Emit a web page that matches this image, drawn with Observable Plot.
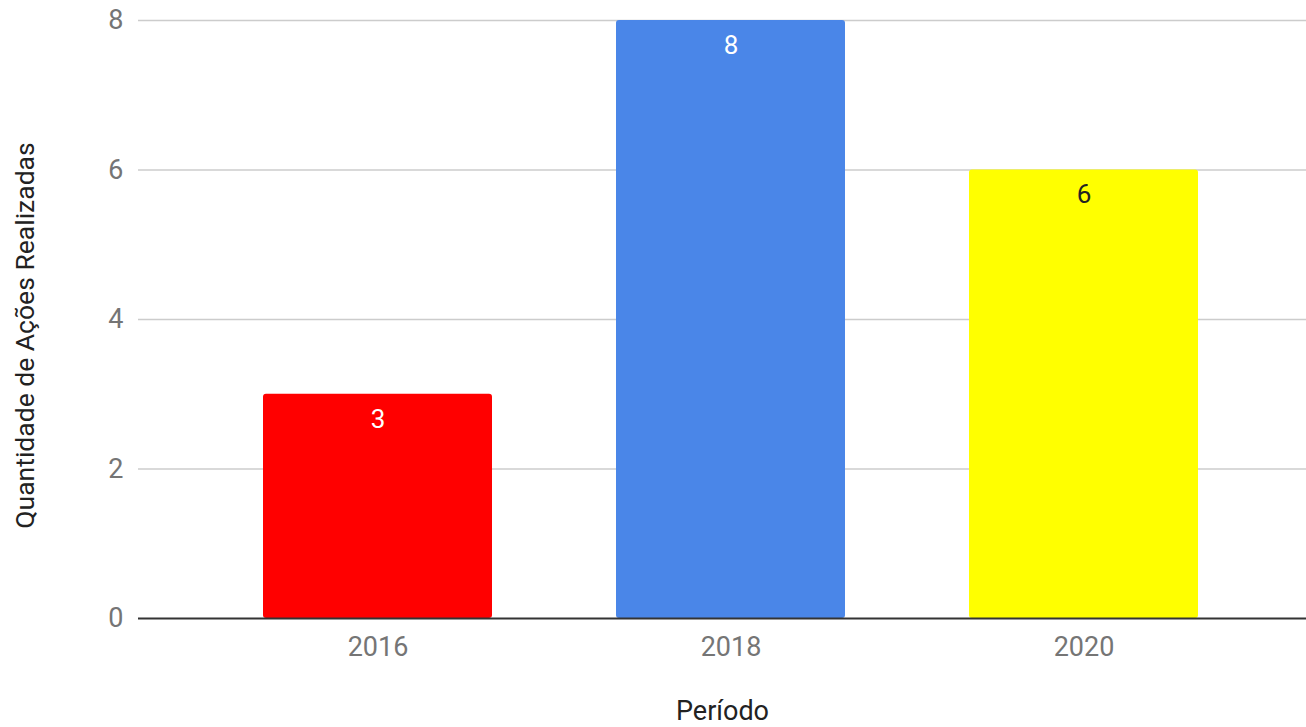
<!DOCTYPE html>
<html>
<head>
<meta charset="utf-8">
<script src="https://cdn.jsdelivr.net/npm/d3@7"></script>
<script src="https://cdn.jsdelivr.net/npm/@observablehq/plot@0.6"></script>
<style>
  html, body { margin: 0; padding: 0; background: #fff; }
  #chart { width: 1306px; height: 727px; }
</style>
</head>
<body>
<div id="chart"></div>
<script>
const years = ["2016", "2018", "2020"];
const values = [3, 8, 6];
const barColors = ["#ff0000", "#4a86e8", "#ffff00"];
const labelColors = ["#ffffff", "#ffffff", "#222222"];
const yTicks = [0, 2, 4, 6, 8];
const xTitle = "Período";
const yTitle = "Quantidade de Ações Realizadas";

const data = years.map((y, i) => ({year: y, value: values[i], color: barColors[i], lc: labelColors[i]}));

const chart = Plot.plot({
  width: 1306,
  height: 727,
  marginLeft: 138,
  marginRight: 0,
  marginTop: 20,
  marginBottom: 109,
  style: {fontFamily: "Roboto, sans-serif", fontSize: "27px", background: "#fff"},
  x: {domain: years, range: [263, 1199], paddingInner: 0.35, paddingOuter: 0},
  y: {domain: [0, 8], ticks: yTicks},
  marks: [
    Plot.ruleY(yTicks.filter(t => t > 0), {stroke: "#cccccc", strokeWidth: 1.5}),
    Plot.barY(data, {x: "year", y: "value", fill: "color", rx: 3}),
    Plot.ruleY([0], {stroke: "#333333", strokeWidth: 2}),
    Plot.text(data, {x: "year", y: "value", text: d => String(d.value), fill: "lc", dy: 25, fontSize: 26}),
    Plot.axisY({ticks: yTicks, tickSize: 0, tickPadding: 15, label: null, fill: "#757575", fontSize: 27}),
    Plot.axisX({tickSize: 0, tickPadding: 18, label: null, fill: "#757575", fontSize: 27}),
    Plot.text([yTitle], {text: d => d, frameAnchor: "left", textAnchor: "middle", dx: -113, dy: 16, rotate: -90, fill: "#222222", fontSize: 26.5}),
    Plot.text([xTitle], {text: d => d, frameAnchor: "bottom", dy: 101, fill: "#222222", fontSize: 27})
  ]
});
document.getElementById("chart").appendChild(chart);
</script>
</body>
</html>
